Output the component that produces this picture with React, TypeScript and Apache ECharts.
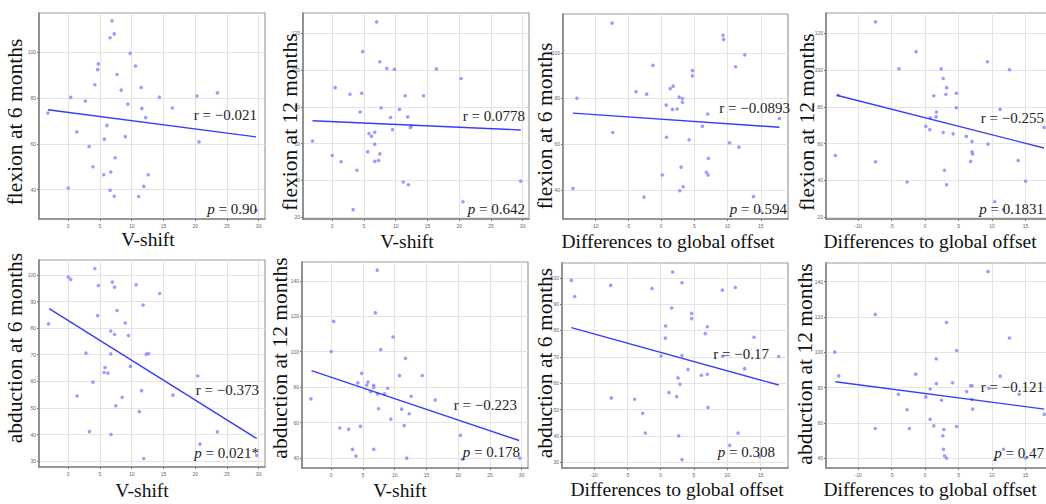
import React, { useEffect, useRef } from "react";
import * as echarts from "echarts";

// ---------- data ----------
const xTitles = [
  "V-shift", "V-shift", "Differences to global offset", "Differences to global offset",
  "V-shift", "V-shift", "Differences to global offset", "Differences to global offset",
];
const yTitles = [
  "flexion at 6 months", "flexion at 12 months", "flexion at 6 months", "flexion at 12 months",
  "abduction at 6 months", "abduction at 12 months", "abduction at 6 months", "abduction at 12 months",
];
const rLabels = [
  "r = −0.021", "r = 0.0778", "r = −0.0893", "r = −0.255",
  "r = −0.373", "r = −0.223", "r = −0.17", "r = −0.121",
];
const pValues = ["0.90", "0.642", "0.594", "0.1831", "0.021*", "0.178", "0.308", "0.47"];

const vshiftTicks = [0, 5, 10, 15, 20, 25, 30];
const offsetTicks = [-10, -5, 0, 5, 10, 15];
const flex6Ticks = [40, 60, 80, 100];
const flex12Ticks = [20, 40, 60, 80, 100, 120];
const abd6Ticks = [30, 40, 50, 60, 70, 80, 90, 100];
const abd12Ticks = [40, 60, 80, 100, 120, 140];

const vshiftRange = [-4.6, 31.0];
const offsetRange = [-14.8, 19.1];
const flex6Range = [27.2, 117.0];
const flex12Range = [19.0, 131.0];
const abd6Range = [27.8, 105.6];
const abd12Range = [34.4, 150.6];

const p1Points = [
  [-3.2, 73.4], [6.9, 113.6], [7.25, 107.9], [6.6, 106.2], [9.75, 99.4], [4.75, 94.8], [4.65, 92.3],
  [10.6, 93.9], [7.7, 90.2], [4.2, 85.7], [11.5, 84.5], [8.35, 83.4], [0.4, 80.2], [14.35, 80.3],
  [20.3, 80.8], [23.5, 82.2], [2.7, 78.6], [9.4, 77.3], [11.6, 75.4], [16.4, 75.6], [12.2, 71.4],
  [6.1, 68.0], [1.35, 65.2], [5.7, 62.0], [9.0, 63.1], [20.6, 60.8], [3.3, 58.8], [7.4, 53.9],
  [3.9, 50.0], [5.6, 46.5], [6.7, 47.7], [12.6, 46.5], [11.9, 41.4], [0, 40.7], [6.6, 39.7],
  [7.25, 37.1], [11.1, 37.0], [29.6, 30.9],
];
const p2Points = [
  [7.0, 126.2], [4.8, 110.0], [7.5, 104.5], [8.6, 100.9], [9.8, 100.4], [16.4, 100.6], [20.3, 95.4],
  [0.47, 90.4], [2.8, 86.8], [4.65, 87.4], [11.5, 86.0], [14.4, 86.0], [7.7, 79.5], [10.6, 78.6],
  [4.4, 77.2], [11.9, 74.5], [9.2, 74.2], [-3.1, 61.4], [9.5, 67.6], [12.3, 68.8], [12.5, 69.6],
  [6.7, 66.2], [5.8, 65.5], [6.2, 63.9], [6.7, 59.7], [5.6, 55.5], [7.5, 54.4], [0, 53.5],
  [1.4, 50.1], [6.7, 50.3], [7.3, 50.8], [3.9, 45.5], [11.2, 39.1], [12.0, 37.6], [29.7, 39.6],
  [20.6, 28.4], [3.3, 24.1],
];
const p3Points = [
  [-7.4, 113.0], [9.3, 107.7], [9.4, 105.9], [12.6, 99.1], [-1.25, 94.5], [11.2, 93.9], [4.7, 92.2],
  [4.7, 89.9], [-3.8, 83.0], [-2.2, 81.9], [1.8, 85.4], [1.35, 84.3], [-12.7, 80.1], [2.7, 80.6],
  [3.2, 80.0], [3.2, 78.3], [0.75, 77.1], [1.7, 75.2], [2.4, 75.4], [7.0, 73.2], [17.8, 71.2],
  [6.2, 67.8], [-7.3, 65.1], [0.8, 63.0], [4.2, 61.9], [10.3, 60.6], [11.7, 58.7], [7.1, 53.8],
  [3.0, 49.9], [0.15, 46.5], [6.8, 47.7], [7.05, 46.5], [-13.3, 40.6], [3.3, 41.3], [2.8, 39.6],
  [-2.6, 36.8], [13.9, 37.0], [14.9, 30.7],
];
const p4Points = [
  [-7.4, 126.2], [-1.35, 110.0], [-3.9, 100.7], [2.4, 100.6], [12.6, 100.2], [9.3, 104.5], [2.7, 95.4],
  [3.2, 90.4], [4.65, 87.4], [3.1, 86.8], [1.3, 86.0], [-13.0, 86.3], [4.65, 79.5], [11.2, 78.6],
  [1.7, 77.2], [1.65, 74.5], [0.75, 74.0], [0.1, 69.4], [0.7, 67.6], [17.75, 68.8], [2.7, 66.0],
  [4.2, 65.3], [6.15, 63.9], [7.0, 61.2], [9.4, 59.7], [7.0, 55.5], [7.1, 54.4], [-13.4, 53.5],
  [6.8, 50.3], [13.9, 50.8], [-7.4, 50.1], [2.9, 45.5], [-2.7, 39.1], [3.2, 37.6], [15.0, 39.6],
  [10.4, 28.4], [11.7, 24.1],
];
const p5Points = [
  [4.2, 102.4], [0, 99.2], [0.4, 98.3], [6.95, 97.3], [4.75, 96.0], [7.3, 95.4], [10.7, 96.3],
  [14.4, 93.0], [11.8, 88.7], [7.7, 86.6], [4.65, 84.7], [-3.1, 81.6], [9.0, 81.9], [6.7, 78.9],
  [7.3, 77.6], [9.5, 77.2], [2.8, 70.6], [6.7, 70.3], [12.3, 70.2], [12.65, 70.4], [9.8, 65.6],
  [5.8, 65.2], [5.65, 63.3], [6.25, 63.1], [20.4, 62.0], [3.9, 59.7], [1.4, 54.5], [11.55, 56.5],
  [16.5, 54.8], [8.5, 54.0], [7.5, 50.8], [11.2, 48.6], [3.35, 41.1], [6.75, 40.0], [23.5, 41.0],
  [20.75, 36.4], [29.7, 32.1], [11.9, 31.0],
];
const p6Points = [
  [7.25, 146.0], [6.95, 121.9], [0.4, 117.1], [9.75, 108.3], [0, 100.1], [7.8, 101.2], [11.7, 96.3],
  [4.8, 87.8], [10.75, 86.5], [14.35, 86.6], [5.8, 82.9], [4.2, 82.4], [5.6, 81.2], [6.7, 81.0],
  [6.7, 79.9], [8.9, 79.4], [6.2, 77.5], [8.4, 76.2], [7.3, 76.2], [12.6, 74.9], [-3.2, 73.4],
  [16.4, 72.8], [7.45, 67.8], [11.1, 67.6], [12.3, 65.0], [9.4, 62.0], [11.5, 58.3], [4.6, 57.9],
  [1.35, 57.0], [2.75, 56.2], [20.35, 52.9], [3.35, 44.9], [6.7, 44.9], [3.9, 41.1], [11.9, 40.0],
  [20.65, 39.3], [29.7, 40.0],
];
const p7Points = [
  [-13.4, 99.0], [1.8, 102.2], [3.2, 98.1], [-7.5, 97.1], [-12.9, 92.9], [-1.3, 95.9], [9.25, 95.3],
  [11.2, 96.3], [1.65, 88.5], [4.65, 86.5], [4.65, 84.5], [0.75, 81.7], [7.0, 81.4], [6.7, 78.8],
  [0.7, 77.1], [14.0, 77.4], [0.05, 70.3], [3.2, 70.5], [9.3, 70.2], [17.7, 70.1], [4.1, 65.2],
  [12.6, 65.5], [6.1, 63.0], [7.0, 63.4], [2.6, 62.0], [2.9, 59.6], [1.25, 56.4], [2.4, 54.9],
  [-7.4, 54.4], [-3.9, 53.9], [7.1, 50.8], [-2.7, 48.6], [-2.3, 41.1], [2.7, 40.0], [11.6, 41.1],
  [10.35, 36.4], [14.85, 32.2], [3.2, 31.0],
];
const p8Points = [
  [9.4, 145.8], [-7.45, 121.5], [3.2, 116.9], [12.6, 108.1], [-13.5, 100.1], [4.7, 101.0], [1.65, 96.3],
  [-1.4, 87.6], [-12.9, 86.6], [11.2, 86.5], [4.1, 82.7], [1.7, 82.2], [6.8, 81.0], [7.0, 81.0],
  [0.75, 79.2], [9.5, 79.6], [6.2, 77.7], [-4.0, 76.2], [14.05, 76.2], [0.1, 74.7], [2.45, 72.8],
  [7.0, 73.2], [-2.7, 67.4], [7.1, 67.8], [17.8, 64.8], [0.75, 62.0], [1.3, 58.3], [4.7, 57.9],
  [-7.45, 56.8], [-2.35, 56.8], [2.8, 56.2], [2.65, 52.7], [2.75, 45.0], [2.9, 41.3], [3.2, 40.0],
  [10.45, 39.3], [11.7, 45.0], [15.0, 40.0],
];

const fitLines = [
  [[-3.2, 74.8], [29.6, 63.0]],
  [[-3.1, 72.4], [29.7, 67.4]],
  [[-13.3, 73.6], [17.8, 67.4]],
  [[-13.2, 86.3], [17.75, 57.6]],
  [[-3.0, 87.3], [29.7, 38.5]],
  [[-3.1, 89.3], [29.6, 49.9]],
  [[-13.4, 81.1], [17.7, 59.3]],
  [[-13.4, 83.3], [17.8, 67.8]],
];

const panelPoints = [p1Points, p2Points, p3Points, p4Points, p5Points, p6Points, p7Points, p8Points];
const panelXTicks = [vshiftTicks, vshiftTicks, offsetTicks, offsetTicks, vshiftTicks, vshiftTicks, offsetTicks, offsetTicks];
const panelYTicks = [flex6Ticks, flex12Ticks, flex6Ticks, flex12Ticks, abd6Ticks, abd12Ticks, abd6Ticks, abd12Ticks];
const panelXRange = [vshiftRange, vshiftRange, offsetRange, offsetRange, vshiftRange, vshiftRange, offsetRange, offsetRange];
const panelYRange = [flex6Range, flex12Range, flex6Range, flex12Range, abd6Range, abd12Range, abd6Range, abd12Range];

// ---------- layout ----------
const gridBoxes = [
  { left: 39, top: 13, width: 226, height: 206 },
  { left: 303, top: 13, width: 226, height: 206 },
  { left: 563, top: 14, width: 225, height: 205 },
  { left: 826, top: 13, width: 227, height: 206 },
  { left: 39, top: 260, width: 226, height: 207 },
  { left: 302, top: 262, width: 226, height: 206 },
  { left: 562, top: 263, width: 226, height: 205 },
  { left: 826, top: 263, width: 227, height: 205 },
];
const yTitlePos = [[15, 122], [290, 122], [545, 126], [807, 122], [15, 348], [280, 358], [545, 363], [805, 364]];
const xTitlePos = [[148, 239], [407, 241], [668, 241], [930, 241], [142, 490], [400, 490], [677, 489], [930, 489]];
const rPos = [[257, 115], [525, 116], [790, 108], [1044, 118], [259, 390], [517, 405], [769, 354], [1044, 387]];
const pPos = [[257, 209], [525, 209], [787, 209], [1044, 209], [259, 453], [520, 452], [775, 452], [1044, 453]];

const SERIF = "'Liberation Serif', 'Times New Roman', serif";

export default function App() {
  const ref = useRef<HTMLDivElement>(null);
  useEffect(() => {
    if (!ref.current) return;
    const chart = echarts.init(ref.current, null, { renderer: "svg" });
    const grid: any[] = [];
    const xAxis: any[] = [];
    const yAxis: any[] = [];
    const series: any[] = [];
    const graphic: any[] = [];
    for (let i = 0; i < 8; i++) {
      grid.push({ ...gridBoxes[i], show: true, borderColor: "#9c9c9c", borderWidth: 1.2, containLabel: false });
      xAxis.push({
        type: "value",
        gridIndex: i,
        min: panelXRange[i][0],
        max: panelXRange[i][1],
        axisLine: { show: true, onZero: false, lineStyle: { color: "#858585", width: 1.6 } },
        axisTick: { show: true, customValues: panelXTicks[i], length: 2, lineStyle: { color: "#777" } },
        axisLabel: { customValues: panelXTicks[i], fontSize: 5, color: "#666", margin: 4, showMinLabel: true, showMaxLabel: true },
        splitLine: { show: true, lineStyle: { color: "#e4e4e4", width: 1 } },
      });
      yAxis.push({
        type: "value",
        gridIndex: i,
        min: panelYRange[i][0],
        max: panelYRange[i][1],
        axisLine: { show: true, onZero: false, lineStyle: { color: "#858585", width: 1.6 } },
        axisTick: { show: true, customValues: panelYTicks[i], length: 2, lineStyle: { color: "#777" } },
        axisLabel: { customValues: panelYTicks[i], fontSize: 5, color: "#666", margin: 3, showMinLabel: true, showMaxLabel: true },
        splitLine: { show: true, lineStyle: { color: "#e4e4e4", width: 1 } },
      });
      series.push({
        type: "scatter",
        xAxisIndex: i,
        yAxisIndex: i,
        data: panelPoints[i],
        symbolSize: 3.6,
        itemStyle: { color: "#8c8cff", opacity: 0.85 },
        silent: true,
      });
      series.push({
        type: "line",
        xAxisIndex: i,
        yAxisIndex: i,
        data: fitLines[i],
        showSymbol: false,
        symbol: "none",
        lineStyle: { color: "#3b3bff", width: 1.4 },
        silent: true,
      });
      graphic.push({
        type: "text",
        x: yTitlePos[i][0],
        y: yTitlePos[i][1],
        rotation: Math.PI / 2,
        style: {
          text: yTitles[i],
          fontFamily: SERIF,
          fontSize: 21.5,
          fill: "#111",
          textAlign: "center",
          textVerticalAlign: "middle",
        },
        z: 10,
      });
      graphic.push({
        type: "text",
        x: xTitlePos[i][0],
        y: xTitlePos[i][1],
        style: {
          text: xTitles[i],
          fontFamily: SERIF,
          fontSize: 19.5,
          fill: "#111",
          textAlign: "center",
          textVerticalAlign: "middle",
        },
        z: 10,
      });
      graphic.push({
        type: "text",
        x: rPos[i][0],
        y: rPos[i][1],
        style: {
          text: rLabels[i],
          fontFamily: SERIF,
          fontSize: 15,
          fill: "#222",
          textAlign: "right",
          textVerticalAlign: "middle",
        },
        z: 10,
      });
      graphic.push({
        type: "text",
        x: pPos[i][0],
        y: pPos[i][1],
        style: {
          text: "{i|p} = " + pValues[i],
          fontFamily: SERIF,
          fontSize: 15,
          fill: "#222",
          textAlign: "right",
          textVerticalAlign: "middle",
          rich: {
            i: { fontFamily: SERIF, fontSize: 15, fontStyle: "italic", fill: "#222" },
          },
        },
        z: 10,
      });
    }
    chart.setOption({
      animation: false,
      backgroundColor: "#ffffff",
      grid,
      xAxis,
      yAxis,
      series,
      graphic,
    });
    return () => chart.dispose();
  }, []);
  return (
    <div style={{ position: "fixed", left: 0, top: 0, width: 1046, height: 504, overflow: "hidden", background: "#fff" }}>
      <div ref={ref} style={{ width: 1060, height: 504 }} />
    </div>
  );
}
